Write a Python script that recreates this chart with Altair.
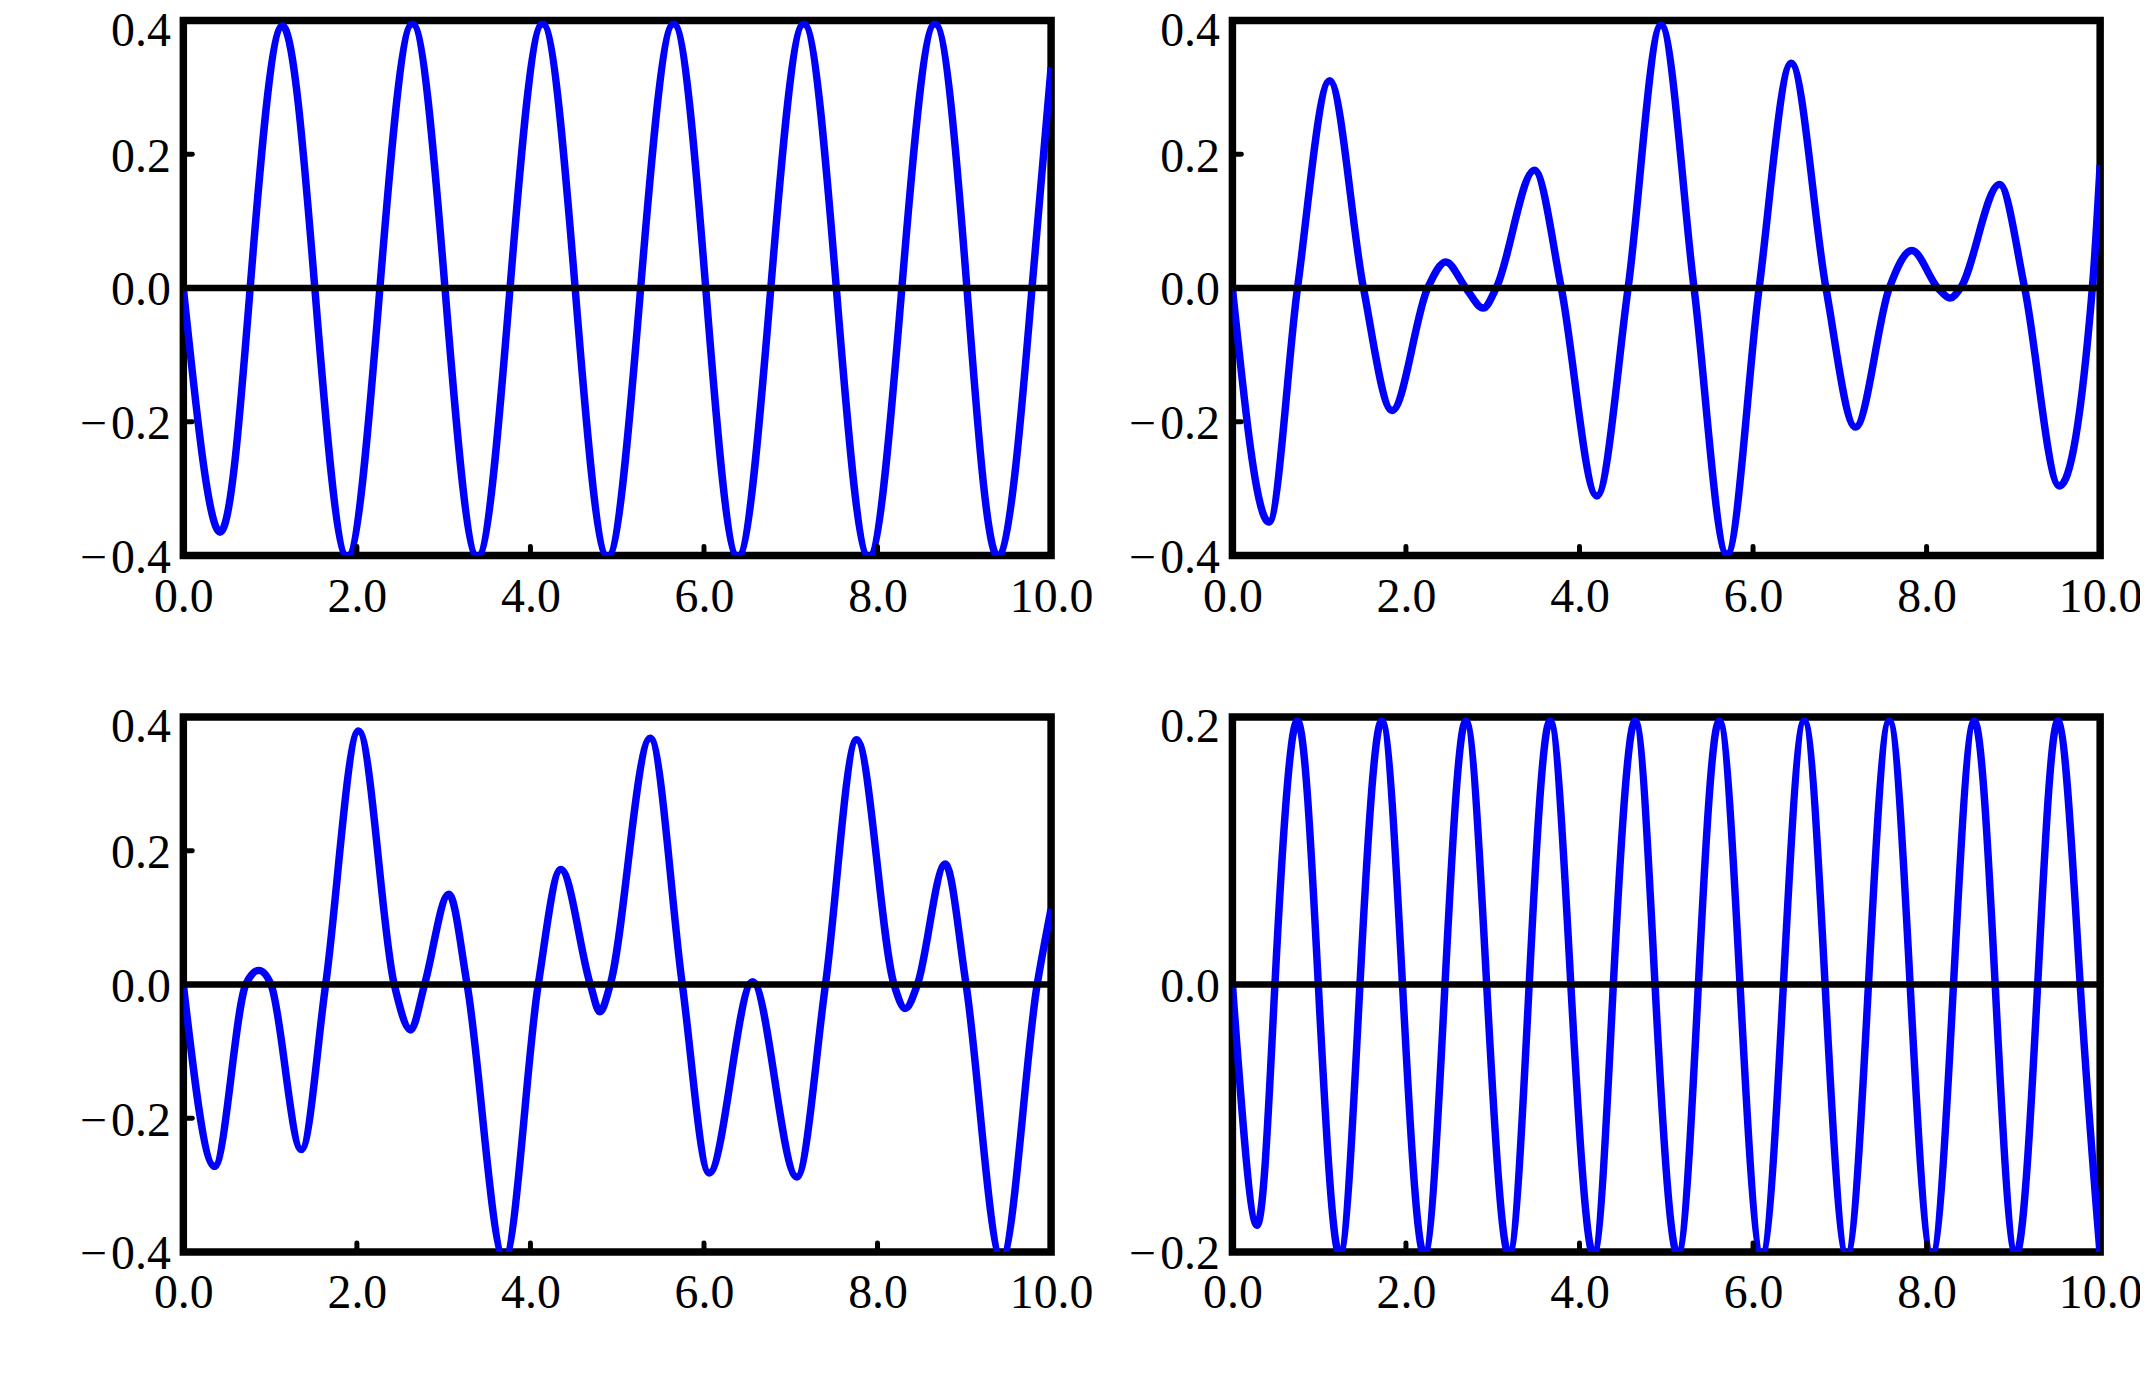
import altair as alt
import pandas as pd

# ---------------- data ----------------
x_tick_values = [0, 2, 4, 6, 8, 10]
x_inner_ticks = [2, 4, 6, 8]
y_ticks_wide = [-0.4, -0.2, 0.0, 0.2, 0.4]
y_inner_wide = [-0.2, 0.2]
y_ticks_narrow = [-0.2, 0.0, 0.2]

# panel A (top left)
a_x = [0, 0.42, 0.77, 1.14, 1.515, 1.89, 2.265, 2.64, 3.015, 3.39, 3.765, 4.14,
       4.515, 4.89, 5.27, 5.65, 6.02, 6.39, 6.77, 7.15, 7.525, 7.90, 8.28, 8.66,
       9.03, 9.40, 9.78, 10.0]
a_y = [0, -0.365, 0, 0.392, 0, -0.402, 0, 0.395, 0, -0.402, 0, 0.395,
       0, -0.402, 0, 0.395, 0, -0.402, 0, 0.395, 0, -0.402, 0, 0.395,
       0, -0.402, 0, 0.33]

# panel B (top right)
b_x = [0, 0.42, 0.75, 1.12, 1.51, 1.84, 2.25, 2.46, 2.69, 2.89, 3.04, 3.48,
       3.79, 4.20, 4.56, 4.94, 5.32, 5.70, 6.07, 6.44, 6.84, 7.18, 7.57, 7.83,
       8.13, 8.27, 8.39, 8.84, 9.13, 9.53, 9.91, 10.0]
b_y = [0, -0.350, 0, 0.310, 0, -0.183, 0, 0.039, 0, -0.030, 0, 0.176,
       0, -0.311, 0, 0.393, 0, -0.398, 0, 0.336, 0, -0.208, 0, 0.056,
       0, -0.015, 0, 0.155, 0, -0.296, 0, 0.184]

# panel C (bottom left)
c_x = [0, 0.36, 0.72, 0.87, 1.01, 1.36, 1.64, 2.02, 2.43, 2.62, 2.78, 3.06,
       3.27, 3.70, 4.09, 4.35, 4.69, 4.80, 4.92, 5.38, 5.75, 6.06, 6.56, 7.07,
       7.40, 7.76, 8.19, 8.32, 8.46, 8.78, 9.02, 9.43, 9.84, 10.0]
c_y = [0, -0.272, 0, 0.021, 0, -0.247, 0, 0.379, 0, -0.068, 0, 0.135,
       0, -0.41, 0, 0.172, 0, -0.041, 0, 0.368, 0, -0.282, 0.004, -0.288,
       0, 0.366, 0, -0.036, 0, 0.180, 0, -0.41, 0, 0.113]

# panel D (bottom right)
d_x = [0, 0.28, 0.49, 0.746, 0.99, 1.235, 1.47, 1.72, 1.96, 2.21, 2.45, 2.69,
       2.93, 3.185, 3.42, 3.66, 3.90, 4.16, 4.39, 4.64, 4.87, 5.13, 5.37, 5.61,
       5.85, 6.10, 6.35, 6.59, 6.83, 7.08, 7.33, 7.57, 7.81, 8.06, 8.31, 8.55,
       8.79, 9.03, 9.28, 9.52, 9.77, 10.0]
d_y = [0, -0.180, 0, 0.197, 0, -0.202, 0, 0.197, 0, -0.202, 0, 0.197,
       0, -0.202, 0, 0.197, 0, -0.202, 0, 0.197, 0, -0.202, 0, 0.197,
       0, -0.202, 0, 0.197, 0, -0.202, 0, 0.197, 0, -0.202, 0, 0.197,
       0, -0.202, 0, 0.197, 0, -0.202]

# ---------------- style ----------------
W, H = 871, 537
FONT = "Liberation Serif"
FS = 48
BLUE = "#0000ff"

label_expr = ("datum.value < 0 ? '\u2212\u200a' + format(-datum.value, '.1f') "
              ": format(abs(datum.value), '.1f')")


def panel(xs, ys, ymax, yticks, yinner, interp):
    xscale = alt.Scale(domain=[0, 10], nice=False, zero=False)
    yscale = alt.Scale(domain=[-ymax, ymax], nice=False, zero=False)
    df = pd.DataFrame({"x": xs, "y": ys})
    line = alt.Chart(df).mark_line(
        color=BLUE, strokeWidth=7.5, interpolate=interp, clip=True
    ).encode(
        x=alt.X("x:Q", scale=xscale, title=None,
                axis=alt.Axis(values=x_tick_values, format=".1f", labelFlush=False,
                              labelOverlap=False, labelPadding=18)),
        y=alt.Y("y:Q", scale=yscale, title=None,
                axis=alt.Axis(values=yticks, labelExpr=label_expr, labelFlush=False,
                              labelOverlap=False, labelPadding=13,
                              labelOffset={"condition": {"test": f"datum.value > {ymax - 0.01}",
                                                         "value": 11},
                                           "value": 3})),
    )
    zero = alt.Chart(pd.DataFrame({"z": [0.0]})).mark_rule(
        color="black", strokeWidth=6.5
    ).encode(y=alt.Y("z:Q", scale=yscale))
    layers = [line, zero]
    if yinner:
        yt = alt.Chart(pd.DataFrame({"t": yinner})).mark_rule(
            color="black", strokeWidth=5, strokeCap="round"
        ).encode(y=alt.Y("t:Q", scale=yscale), x=alt.value(0), x2=alt.value(9))
        layers.append(yt)
    xt = alt.Chart(pd.DataFrame({"t": x_inner_ticks})).mark_rule(
        color="black", strokeWidth=5, strokeCap="round"
    ).encode(x=alt.X("t:Q", scale=xscale), y=alt.value(H), y2=alt.value(H - 9))
    layers.append(xt)
    return alt.layer(*layers).properties(width=W, height=H)


pa = panel(a_x, a_y, 0.4, y_ticks_wide, y_inner_wide, "natural")
pb = panel(b_x, b_y, 0.4, y_ticks_wide, y_inner_wide, "monotone")
pc = panel(c_x, c_y, 0.4, y_ticks_wide, y_inner_wide, "monotone")
pd_ = panel(d_x, d_y, 0.2, y_ticks_narrow, [], "natural")

chart = alt.concat(
    pa, pb, pc, pd_, columns=2, bounds="flush",
    spacing={"row": 162, "column": 182},
).properties(
    autosize=alt.AutoSizeParams(type="none"),
    padding={"left": 176, "top": 10, "right": 1964, "bottom": 1370},
    background="white",
).configure_view(
    stroke="black", strokeWidth=7.5
).configure_axis(
    domain=False, ticks=False, grid=False,
    labelFont=FONT, labelFontSize=FS, labelColor="black",
)

chart.save("out.html", embed_options={"renderer": "svg", "actions": False})
